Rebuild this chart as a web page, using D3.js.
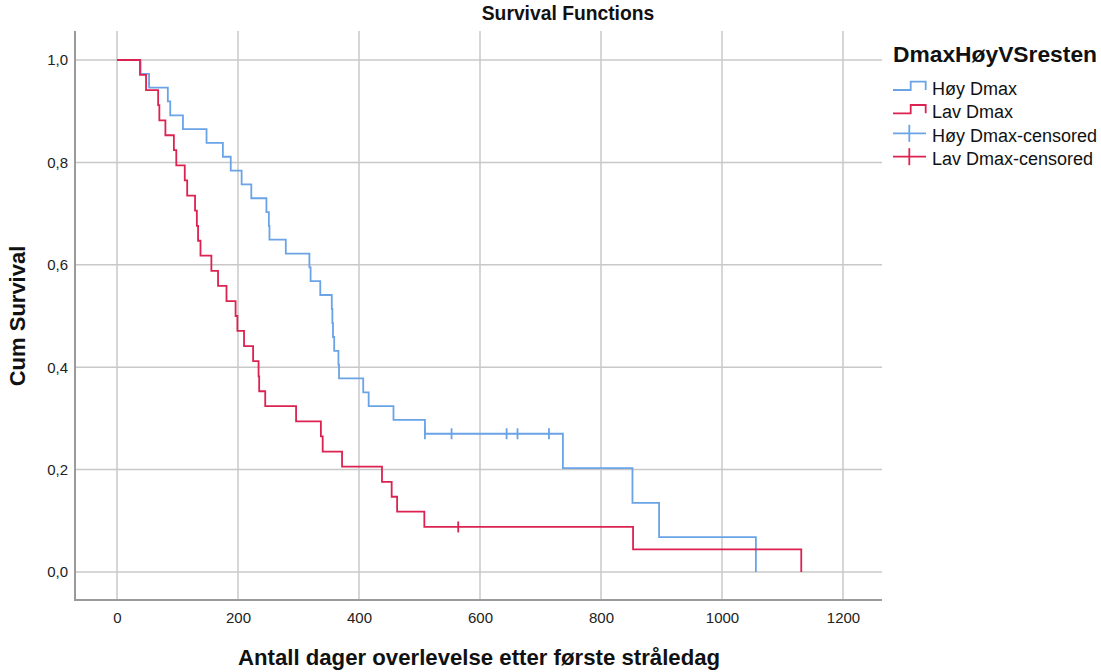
<!DOCTYPE html>
<html>
<head>
<meta charset="utf-8">
<script src="https://cdn.jsdelivr.net/npm/d3@7/dist/d3.min.js"></script>
<style>
  html, body { margin: 0; padding: 0; background: #fff; }
  svg { display: block; font-family: "Liberation Sans", Arial, sans-serif; }
</style>
</head>
<body>
<svg id="chart" width="1101" height="672"></svg>
<script>
// ---- data ----
const seriesNames = ["Høy Dmax", "Lav Dmax"];
const legendLabels = ["Høy Dmax", "Lav Dmax", "Høy Dmax-censored", "Lav Dmax-censored"];
const xTicks = [0, 200, 400, 600, 800, 1000, 1200];
const yTicks = [0, 0.2, 0.4, 0.6, 0.8, 1.0];

const hoyTimes = [0,39,53,84,88,109,148,175,188,206,222,247,251,252,279,318,320,336,355,356,357,359,366,367,407,416,457,509,737,852,896,1056];
const hoySurv  = [1,0.973,0.946,0.919,0.892,0.865,0.838,0.811,0.784,0.757,0.730,0.703,0.676,0.649,0.622,0.595,0.568,0.541,0.514,0.486,0.459,0.432,0.405,0.378,0.351,0.324,0.297,0.270,0.203,0.135,0.068,0];
const hoyCensTimes = [509, 553, 644, 662, 714];
const hoyCensSurv  = [0.270, 0.270, 0.270, 0.270, 0.270];

const lavTimes = [0,38,48,68,70,80,94,98,112,116,129,132,134,138,156,167,181,196,199,210,225,234,235,245,296,337,340,372,438,454,463,508,853,1131];
const lavSurv  = [1,0.971,0.941,0.912,0.882,0.853,0.824,0.794,0.765,0.735,0.706,0.676,0.647,0.618,0.588,0.559,0.529,0.500,0.471,0.441,0.412,0.382,0.353,0.324,0.294,0.265,0.235,0.206,0.176,0.147,0.118,0.088,0.044,0];
const lavCensTimes = [564];
const lavCensSurv  = [0.088];

const colors = ["#6aa3e6", "#dc2250"];

// ---- layout ----
const svg = d3.select("#chart");
const plotL = 75, plotR = 882, plotT = 31, plotB = 600;
const x = d3.scaleLinear().domain([0, 1200]).range([117, 843]);
const y = d3.scaleLinear().domain([0, 1]).range([572, 60]);
const fmt = d => d.toFixed(1).replace(".", ",");

// grid
const grid = svg.append("g");
grid.selectAll("line.v").data(xTicks).join("line")
  .attr("x1", d => x(d)).attr("x2", d => x(d))
  .attr("y1", plotT).attr("y2", plotB)
  .attr("stroke", "#c8c8c8").attr("stroke-width", 1.5);
grid.selectAll("line.h").data(yTicks).join("line")
  .attr("x1", plotL).attr("x2", plotR)
  .attr("y1", d => y(d)).attr("y2", d => y(d))
  .attr("stroke", "#c8c8c8").attr("stroke-width", 1.5);

// axes (no tick marks)
const xAxis = svg.append("g").attr("transform", `translate(0,${plotB})`)
  .call(d3.axisBottom(x).tickValues(xTicks).tickSize(0).tickPadding(12).tickFormat(d3.format("d")));
xAxis.select(".domain").remove();
xAxis.selectAll("text").attr("font-size", 15).attr("fill", "#222").attr("font-family", "Liberation Sans, Arial, sans-serif");

const yAxis = svg.append("g").attr("transform", `translate(${plotL},0)`)
  .call(d3.axisLeft(y).tickValues(yTicks).tickSize(0).tickPadding(7).tickFormat(fmt));
yAxis.select(".domain").remove();
yAxis.selectAll("text").attr("font-size", 15).attr("fill", "#222").attr("font-family", "Liberation Sans, Arial, sans-serif");

svg.append("line").attr("x1", plotL).attr("x2", plotL).attr("y1", plotT).attr("y2", plotB + 1)
  .attr("stroke", "#9a9a9a").attr("stroke-width", 2);
svg.append("line").attr("x1", plotL).attr("x2", plotR).attr("y1", plotB).attr("y2", plotB)
  .attr("stroke", "#9a9a9a").attr("stroke-width", 2);

// curves
const line = d3.line().x(d => x(d[0])).y(d => y(d[1])).curve(d3.curveStepAfter);
const curves = [
  { times: hoyTimes, surv: hoySurv, ct: hoyCensTimes, cs: hoyCensSurv, color: colors[0] },
  { times: lavTimes, surv: lavSurv, ct: lavCensTimes, cs: lavCensSurv, color: colors[1] }
];
curves.forEach(c => {
  const pts = c.times.map((t, i) => [t, c.surv[i]]);
  svg.append("path").attr("d", line(pts)).attr("fill", "none")
    .attr("stroke", c.color).attr("stroke-width", 1.8);
  const cens = c.ct.map((t, i) => [t, c.cs[i]]);
  svg.append("g").selectAll("line").data(cens).join("line")
    .attr("x1", d => x(d[0])).attr("x2", d => x(d[0]))
    .attr("y1", d => y(d[1]) - 5.5).attr("y2", d => y(d[1]) + 5.5)
    .attr("stroke", c.color).attr("stroke-width", 1.8);
});

// titles
svg.append("text").attr("x", 568).attr("y", 20).attr("text-anchor", "middle")
  .attr("font-size", 19.3).attr("font-weight", "bold").attr("fill", "#111").text("Survival Functions");
svg.append("text").attr("x", 479).attr("y", 665).attr("text-anchor", "middle")
  .attr("font-size", 22.2).attr("font-weight", "bold").attr("fill", "#111")
  .text("Antall dager overlevelse etter første stråledag");
svg.append("text").attr("transform", "translate(25,316) rotate(-90)").attr("text-anchor", "middle")
  .attr("font-size", 22).attr("font-weight", "bold").attr("fill", "#111").text("Cum Survival");

// legend
const lg = svg.append("g");
lg.append("text").attr("x", 893).attr("y", 62).attr("font-size", 22.8).attr("font-weight", "bold")
  .attr("fill", "#111").text("DmaxHøyVSresten");
const rowY = [90, 113.3, 133.3, 156.7];
const textY = [95, 118.3, 141.7, 165];
legendLabels.forEach((lab, i) => {
  const col = colors[i % 2];
  const yy = rowY[i];
  if (i < 2) {
    const p = d3.line()([[893, yy], [910.7, yy], [910.7, yy - 8.3], [925.7, yy - 8.3], [925.7, yy]]);
    lg.append("path").attr("d", p).attr("fill", "none").attr("stroke", col).attr("stroke-width", 1.8);
  } else {
    lg.append("line").attr("x1", 893).attr("x2", 926).attr("y1", yy).attr("y2", yy)
      .attr("stroke", col).attr("stroke-width", 1.8);
    lg.append("line").attr("x1", 909.3).attr("x2", 909.3).attr("y1", yy - 8.5).attr("y2", yy + 8.5)
      .attr("stroke", col).attr("stroke-width", 1.8);
  }
  lg.append("text").attr("x", 932).attr("y", textY[i]).attr("font-size", 18)
    .attr("fill", "#111").text(lab);
});
</script>
</body>
</html>
